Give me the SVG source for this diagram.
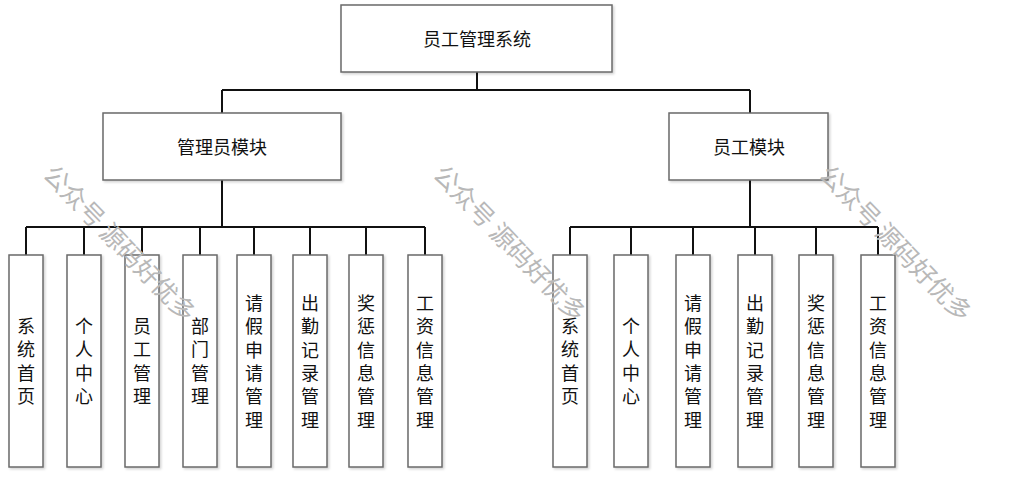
<svg xmlns="http://www.w3.org/2000/svg" width="1024" height="480" viewBox="0 0 1024 480">
<defs>
<filter id="sh" x="-20%" y="-20%" width="140%" height="140%">
<feDropShadow dx="1.5" dy="1.5" stdDeviation="1.2" flood-color="#000" flood-opacity="0.18"/>
</filter>
</defs>
<style>
.box{fill:#fff;stroke:#6a6a6a;stroke-width:1.5;filter:url(#sh)}
.t{font-family:"Liberation Sans","Noto Sans CJK SC",sans-serif;font-size:18px;fill:#111;text-anchor:middle;dominant-baseline:central}
.v{font-family:"Liberation Sans","Noto Sans CJK SC",sans-serif;font-size:18px;fill:#111;text-anchor:middle}
.ln{fill:none;stroke:#111;stroke-width:2}
.wm{font-family:"Noto Sans CJK SC",sans-serif;font-size:25px;fill:#b8b8b8;text-anchor:middle;dominant-baseline:central}
</style>
<rect width="1024" height="480" fill="#fff"/>
<g id="connectors">
<path class="ln" d="M477 72V90M222 90H750M222 90V113M750 90V113"/>
<path class="ln" d="M222 180V227M26 227H425M26 227V255M84 227V255M142 227V255M200 227V255M254 227V255M310 227V255M366 227V255M425 227V255"/>
<path class="ln" d="M750 180V227M570 227H878M570 227V255M631 227V255M693 227V255M755 227V255M816 227V255M878 227V255"/>
</g>
<g id="root"><rect class="box" x="341" y="5" width="271" height="67"/><text class="t" x="477" y="40">员工管理系统</text></g>
<g id="admin"><rect class="box" x="103" y="113" width="238" height="67"/><text class="t" x="222" y="148">管理员模块</text></g>
<g id="staff"><rect class="box" x="669" y="113" width="159" height="67"/><text class="t" x="749" y="148">员工模块</text></g>

<g id="a1"><rect class="box" x="9" y="255" width="34" height="212"/><text class="v"><tspan x="26" y="333">系</tspan><tspan x="26" dy="23.3">统</tspan><tspan x="26" dy="23.3">首</tspan><tspan x="26" dy="23.3">页</tspan></text></g>
<g id="a2"><rect class="box" x="67" y="255" width="34" height="212"/><text class="v"><tspan x="84" y="333">个</tspan><tspan x="84" dy="23.3">人</tspan><tspan x="84" dy="23.3">中</tspan><tspan x="84" dy="23.3">心</tspan></text></g>
<g id="a3"><rect class="box" x="125" y="255" width="34" height="212"/><text class="v"><tspan x="142" y="333">员</tspan><tspan x="142" dy="23.3">工</tspan><tspan x="142" dy="23.3">管</tspan><tspan x="142" dy="23.3">理</tspan></text></g>
<g id="a4"><rect class="box" x="183" y="255" width="34" height="212"/><text class="v"><tspan x="200" y="333">部</tspan><tspan x="200" dy="23.3">门</tspan><tspan x="200" dy="23.3">管</tspan><tspan x="200" dy="23.3">理</tspan></text></g>
<g id="a5"><rect class="box" x="237" y="255" width="34" height="212"/><text class="v"><tspan x="254" y="310">请</tspan><tspan x="254" dy="23.3">假</tspan><tspan x="254" dy="23.3">申</tspan><tspan x="254" dy="23.3">请</tspan><tspan x="254" dy="23.3">管</tspan><tspan x="254" dy="23.3">理</tspan></text></g>
<g id="a6"><rect class="box" x="293" y="255" width="34" height="212"/><text class="v"><tspan x="310" y="310">出</tspan><tspan x="310" dy="23.3">勤</tspan><tspan x="310" dy="23.3">记</tspan><tspan x="310" dy="23.3">录</tspan><tspan x="310" dy="23.3">管</tspan><tspan x="310" dy="23.3">理</tspan></text></g>
<g id="a7"><rect class="box" x="349" y="255" width="34" height="212"/><text class="v"><tspan x="366" y="310">奖</tspan><tspan x="366" dy="23.3">惩</tspan><tspan x="366" dy="23.3">信</tspan><tspan x="366" dy="23.3">息</tspan><tspan x="366" dy="23.3">管</tspan><tspan x="366" dy="23.3">理</tspan></text></g>
<g id="a8"><rect class="box" x="408" y="255" width="34" height="212"/><text class="v"><tspan x="425" y="310">工</tspan><tspan x="425" dy="23.3">资</tspan><tspan x="425" dy="23.3">信</tspan><tspan x="425" dy="23.3">息</tspan><tspan x="425" dy="23.3">管</tspan><tspan x="425" dy="23.3">理</tspan></text></g>

<g id="s1"><rect class="box" x="553" y="255" width="34" height="212"/><text class="v"><tspan x="570" y="333">系</tspan><tspan x="570" dy="23.3">统</tspan><tspan x="570" dy="23.3">首</tspan><tspan x="570" dy="23.3">页</tspan></text></g>
<g id="s2"><rect class="box" x="614" y="255" width="34" height="212"/><text class="v"><tspan x="631" y="333">个</tspan><tspan x="631" dy="23.3">人</tspan><tspan x="631" dy="23.3">中</tspan><tspan x="631" dy="23.3">心</tspan></text></g>
<g id="s3"><rect class="box" x="676" y="255" width="34" height="212"/><text class="v"><tspan x="693" y="310">请</tspan><tspan x="693" dy="23.3">假</tspan><tspan x="693" dy="23.3">申</tspan><tspan x="693" dy="23.3">请</tspan><tspan x="693" dy="23.3">管</tspan><tspan x="693" dy="23.3">理</tspan></text></g>
<g id="s4"><rect class="box" x="738" y="255" width="34" height="212"/><text class="v"><tspan x="755" y="310">出</tspan><tspan x="755" dy="23.3">勤</tspan><tspan x="755" dy="23.3">记</tspan><tspan x="755" dy="23.3">录</tspan><tspan x="755" dy="23.3">管</tspan><tspan x="755" dy="23.3">理</tspan></text></g>
<g id="s5"><rect class="box" x="799" y="255" width="34" height="212"/><text class="v"><tspan x="816" y="310">奖</tspan><tspan x="816" dy="23.3">惩</tspan><tspan x="816" dy="23.3">信</tspan><tspan x="816" dy="23.3">息</tspan><tspan x="816" dy="23.3">管</tspan><tspan x="816" dy="23.3">理</tspan></text></g>
<g id="s6"><rect class="box" x="861" y="255" width="34" height="212"/><text class="v"><tspan x="878" y="310">工</tspan><tspan x="878" dy="23.3">资</tspan><tspan x="878" dy="23.3">信</tspan><tspan x="878" dy="23.3">息</tspan><tspan x="878" dy="23.3">管</tspan><tspan x="878" dy="23.3">理</tspan></text></g>

<g id="watermarks">
<text class="wm" transform="translate(121 242) rotate(46)">公众号 源码好优多</text>
<text class="wm" transform="translate(511 242) rotate(46)">公众号 源码好优多</text>
<text class="wm" transform="translate(897 242) rotate(46)">公众号 源码好优多</text>
</g>
</svg>
